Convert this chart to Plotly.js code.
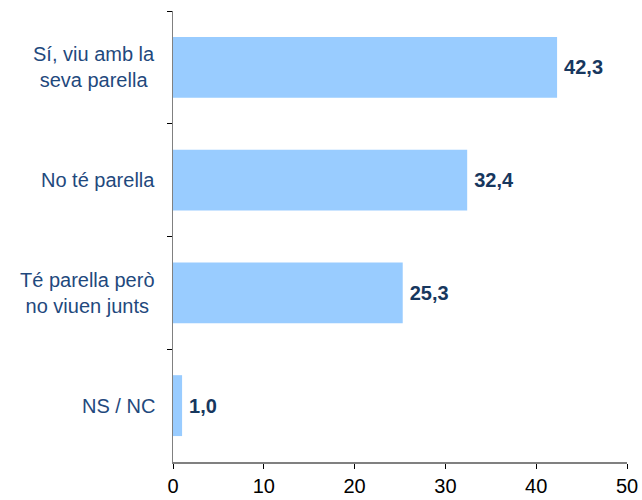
<!DOCTYPE html>
<html>
<head>
<meta charset="utf-8">
<script src="https://cdn.plot.ly/plotly-3.0.1.min.js"></script>
<style>html,body{margin:0;padding:0;background:#fff;}</style>
</head>
<body>
<div id="chart" style="width:642px;height:500px;"></div>
<script>
var categories = ["Sí, viu amb la<br>seva parella", "No té parella", "Té parella però<br>no viuen junts", "NS / NC"];
var values = [42.3, 32.4, 25.3, 1.0];
var xTicks = [0, 10, 20, 30, 40, 50];

var trace = {
  type: 'bar',
  orientation: 'h',
  y: categories,
  x: values,
  marker: {color: '#99CCFF'},
  texttemplate: '\u2009<b>%{x:.1f}</b>',
  textposition: 'outside',
  textfont: {family: 'Liberation Sans, Arial, sans-serif', size: 20, color: '#17375E'},
  cliponaxis: false,
  hoverinfo: 'none'
};

var annotations = categories.map(function(c){
  return {
    text: c, xref: 'paper', yref: 'y', x: -0.036, y: c,
    xanchor: 'right', yanchor: 'middle', align: 'center', showarrow: false,
    font: {family: 'Liberation Sans, Arial, sans-serif', size: 20, color: '#1F497D'}
  };
});

var layout = {
  width: 642, height: 500,
  margin: {l: 173, r: 15, t: 11, b: 38},
  paper_bgcolor: '#fff', plot_bgcolor: '#fff',
  separators: ',.',
  showlegend: false,
  bargap: 0.46,
  font: {family: 'Liberation Sans, Arial, sans-serif', size: 20, color: '#000'},
  xaxis: {
    range: [0, 50], tickvals: xTicks, ticktext: xTicks.map(String),
    showgrid: false, zeroline: false,
    showline: true, linecolor: '#808080', linewidth: 1.5,
    ticks: 'outside', ticklen: 5, tickcolor: '#000', tickwidth: 1,
    tickfont: {size: 20, color: '#000'}, fixedrange: true
  },
  yaxis: {
    type: 'category', autorange: 'reversed',
    showticklabels: false,
    showgrid: false, zeroline: false,
    showline: true, linecolor: '#808080', linewidth: 1.5,
    ticks: 'outside', tickson: 'boundaries', ticklen: 5, tickcolor: '#000', tickwidth: 1,
    fixedrange: true
  },
  annotations: annotations
};

Plotly.newPlot('chart', [trace], layout, {displayModeBar: false, staticPlot: true});
</script>
</body>
</html>
